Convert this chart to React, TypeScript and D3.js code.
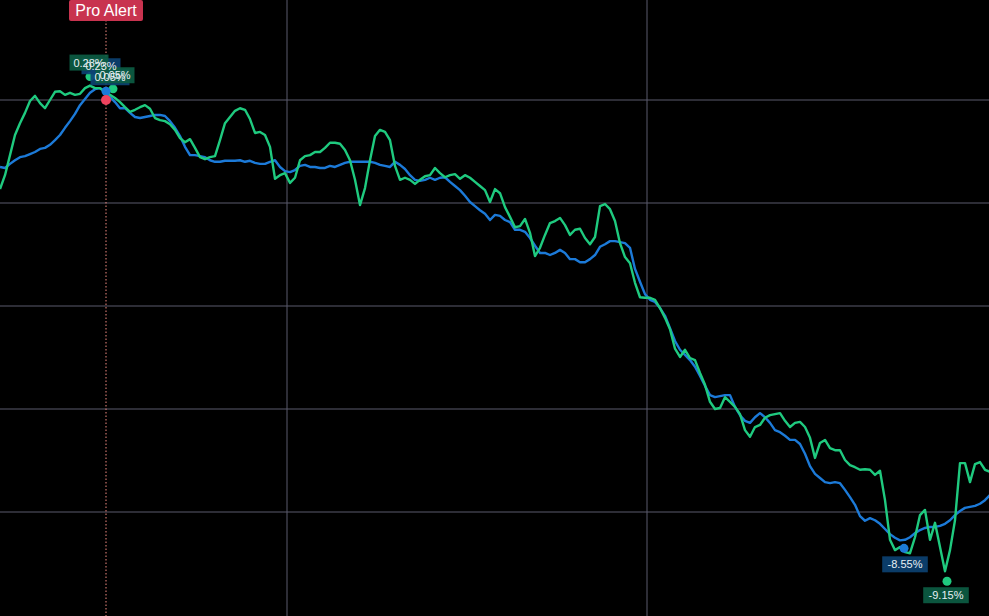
import React from "react";
import * as d3 from "d3";

// % change, one sample per step
const greenSeries = [
  -1.73, -1.46, -1.07, -0.68, -0.45, -0.25, -0.02, 0.08, -0.06, -0.16,
  0.0, 0.16, 0.17, 0.1, 0.14, 0.1, 0.12, 0.23, 0.28, 0.23,
  0.23, 0.16, 0.1, 0.04, -0.04, -0.14, -0.23, -0.19, -0.14, -0.1,
  -0.17, -0.35, -0.39, -0.41, -0.47, -0.58, -0.74, -0.82, -0.76, -0.93,
  -1.11, -1.15, -1.11, -1.09, -0.78, -0.45, -0.33, -0.21, -0.16, -0.19,
  -0.37, -0.64, -0.62, -0.68, -0.91, -1.53, -1.46, -1.42, -1.61, -1.51,
  -1.17, -1.09, -1.07, -1.01, -1.01, -0.93, -0.83, -0.83, -0.85, -0.97,
  -1.17, -1.55, -2.04, -1.71, -1.17, -0.7, -0.58, -0.62, -0.78, -1.28,
  -1.55, -1.51, -1.55, -1.63, -1.55, -1.48, -1.46, -1.32, -1.42, -1.5,
  -1.46, -1.44, -1.53, -1.46, -1.51, -1.59, -1.67, -1.75, -1.98, -1.73,
  -1.81, -2.08, -2.27, -2.47, -2.45, -2.31, -2.58, -3.03, -2.87, -2.62,
  -2.39, -2.35, -2.29, -2.43, -2.62, -2.52, -2.5, -2.68, -2.8, -2.66,
  -2.06, -2.02, -2.12, -2.35, -2.78, -3.05, -3.17, -3.55, -3.83, -3.84,
  -3.84, -3.88, -4.04, -4.23, -4.45, -4.83, -4.99, -4.85, -5.01, -5.05,
  -5.3, -5.53, -5.86, -6.0, -5.98, -5.77, -5.86, -5.96, -6.1, -6.41,
  -6.54, -6.35, -6.31, -6.17, -6.12, -6.1, -6.08, -6.23, -6.35, -6.27,
  -6.25, -6.35, -6.56, -6.95, -6.66, -6.6, -6.76, -6.8, -6.8, -6.99,
  -7.09, -7.13, -7.18, -7.17, -7.18, -7.28, -7.2, -7.77, -8.54, -8.74,
  -8.68, -8.78, -8.8, -8.49, -8.06, -7.96, -8.54, -8.21, -8.68, -9.15,
  -8.74, -8.16, -7.05, -7.05, -7.42, -7.07, -7.03, -7.18, -7.22,
];

const blueSeries = [
  -1.3, -1.32, -1.24, -1.17, -1.11, -1.09, -1.05, -1.01, -0.95, -0.93,
  -0.87, -0.78, -0.68, -0.54, -0.41, -0.27, -0.1, 0.02, 0.14, 0.21,
  0.23, 0.17, 0.06, -0.04, -0.16, -0.16, -0.25, -0.33, -0.35, -0.33,
  -0.31, -0.29, -0.29, -0.31, -0.41, -0.54, -0.7, -0.91, -1.07, -1.07,
  -1.09, -1.11, -1.17, -1.2, -1.2, -1.18, -1.18, -1.18, -1.17, -1.2,
  -1.18, -1.22, -1.24, -1.24, -1.2, -1.17, -1.3, -1.38, -1.4, -1.36,
  -1.28, -1.26, -1.3, -1.3, -1.32, -1.32, -1.28, -1.3, -1.26, -1.22,
  -1.2, -1.2, -1.2, -1.2, -1.2, -1.22, -1.26, -1.28, -1.3, -1.2,
  -1.26, -1.34, -1.46, -1.55, -1.57, -1.55, -1.51, -1.55, -1.51, -1.5,
  -1.59, -1.67, -1.75, -1.86, -1.98, -2.06, -2.14, -2.21, -2.33, -2.23,
  -2.25, -2.33, -2.37, -2.52, -2.52, -2.56, -2.68, -2.83, -2.97, -2.97,
  -3.01, -2.97, -2.91, -2.97, -3.09, -3.09, -3.15, -3.15, -3.09, -3.01,
  -2.85, -2.8, -2.74, -2.74, -2.76, -2.78, -2.87, -3.28, -3.53, -3.77,
  -3.88, -3.92, -4.04, -4.19, -4.43, -4.68, -4.85, -4.95, -5.05, -5.18,
  -5.36, -5.55, -5.73, -5.77, -5.75, -5.73, -5.73, -5.96, -6.12, -6.23,
  -6.27, -6.16, -6.08, -6.16, -6.27, -6.41, -6.45, -6.52, -6.6, -6.6,
  -6.68, -6.87, -7.11, -7.26, -7.34, -7.42, -7.44, -7.42, -7.44, -7.57,
  -7.71, -7.86, -8.08, -8.17, -8.12, -8.16, -8.23, -8.33, -8.43, -8.5,
  -8.55, -8.54, -8.49, -8.41, -8.35, -8.31, -8.29, -8.29, -8.27, -8.23,
  -8.16, -8.06, -7.98, -7.92, -7.9, -7.88, -7.84, -7.77, -7.67,
];

const gridValues = [0, -2, -4, -6, -8];
const timeGridIdx = [57.4, 129.4];
const alertIdx = 21.2;
const alertText = "Pro Alert";

const GREEN = "#1fca7f";
const BLUE = "#1c7ad8";
const GREEN_TAG = "#0c5e45";
const BLUE_TAG = "#0c4273";

const W = 989;
const H = 616;

type Tag = { x: number; y: number; text: string; fill: string };

const tagWidth = (t: string) => t.length * 6.6 + 6;

export default function App() {
  const x = d3.scaleLinear().domain([0, greenSeries.length - 1]).range([0, 990]);
  const y = d3.scaleLinear().domain([0, -8]).range([100, 512]);
  const line = d3.line<number>().x((_, i) => x(i)).y((d) => y(d));

  const fmt = (v: number) => `${v.toFixed(2)}%`;

  const gMax = d3.maxIndex(greenSeries);
  const gMin = d3.minIndex(greenSeries);
  const bMin = d3.minIndex(blueSeries);
  const bAlert = Math.round(alertIdx);

  // dots (with small offsets away from the line)
  const dots = [
    { cx: x(gMax), cy: y(greenSeries[gMax]) - 9, fill: GREEN },
    { cx: x(alertIdx) + 7, cy: y(greenSeries[bAlert + 1]) - 6, fill: GREEN },
    { cx: x(alertIdx), cy: y(blueSeries[bAlert]), fill: BLUE },
    { cx: x(bMin) + 4, cy: y(blueSeries[bMin]) + 8, fill: BLUE },
    { cx: x(gMin) + 2, cy: y(greenSeries[gMin]) + 10, fill: GREEN },
  ];

  const tags: Tag[] = [
    { x: x(alertIdx) - 5, y: y(blueSeries[bAlert]) - 25, text: fmt(blueSeries[bAlert - 1]), fill: BLUE_TAG },
    { x: x(gMax) - 1, y: y(greenSeries[gMax]) - 23, text: fmt(greenSeries[gMax]), fill: GREEN_TAG },
    { x: x(alertIdx) + 4, y: y(blueSeries[bAlert]) - 14, text: "0.05%", fill: BLUE_TAG },
    { x: x(alertIdx) + 9, y: y(blueSeries[bAlert]) - 16, text: "0.05%", fill: GREEN_TAG },
    { x: x(bMin) + 5, y: y(blueSeries[bMin]) + 24, text: fmt(blueSeries[bMin]), fill: BLUE_TAG },
    { x: x(gMin) + 1, y: y(greenSeries[gMin]) + 24, text: fmt(greenSeries[gMin]), fill: GREEN_TAG },
  ];

  return (
    <svg width={W} height={H} style={{ position: "fixed", left: 0, top: 0, background: "#000" }}>
      <rect width={W} height={H} fill="#000" />
      {/* grid */}
      {gridValues.map((v) => (
        <line key={v} x1={0} x2={W} y1={y(v)} y2={y(v)} stroke="#5a5a6c" strokeWidth={1} />
      ))}
      {timeGridIdx.map((t) => (
        <line key={t} x1={x(t)} x2={x(t)} y1={0} y2={H} stroke="#5a5a6c" strokeWidth={1} />
      ))}
      {/* alert marker line */}
      <line x1={x(alertIdx)} x2={x(alertIdx)} y1={20} y2={H} stroke="#f08a80"
        strokeWidth={1} strokeDasharray="1.5,2" />

      <path d={line(blueSeries) as string} fill="none" stroke={BLUE} strokeWidth={2.4} strokeLinejoin="round" />
      <path d={line(greenSeries) as string} fill="none" stroke={GREEN} strokeWidth={2.4} strokeLinejoin="round" />

      {dots.map((d, i) => (
        <circle key={i} cx={d.cx} cy={d.cy} r={4.5} fill={d.fill} />
      ))}
      <circle cx={x(alertIdx)} cy={y(0)} r={5} fill="#f0435e" />

      {/* tag boxes first, texts on top (overlapping like the original) */}
      {tags.map((t, i) => (
        <rect key={i} x={t.x - tagWidth(t.text) / 2} y={t.y - 8} width={tagWidth(t.text)} height={16}
          fill={t.fill} fillOpacity={0.9} />
      ))}
      {tags.map((t, i) => (
        <text key={i} x={t.x} y={t.y + 4} textAnchor="middle" fill="#e8f0f4" fontSize={11}
          fontFamily="Liberation Sans, Arial, sans-serif">{t.text}</text>
      ))}

      {/* alert badge */}
      <rect x={x(alertIdx) - 37} y={0} width={74} height={21} rx={2} fill="#c8334f" />
      <text x={x(alertIdx)} y={16} textAnchor="middle" fill="#fff" fontSize={16}
        fontFamily="Liberation Sans, Arial, sans-serif">{alertText}</text>
    </svg>
  );
}
